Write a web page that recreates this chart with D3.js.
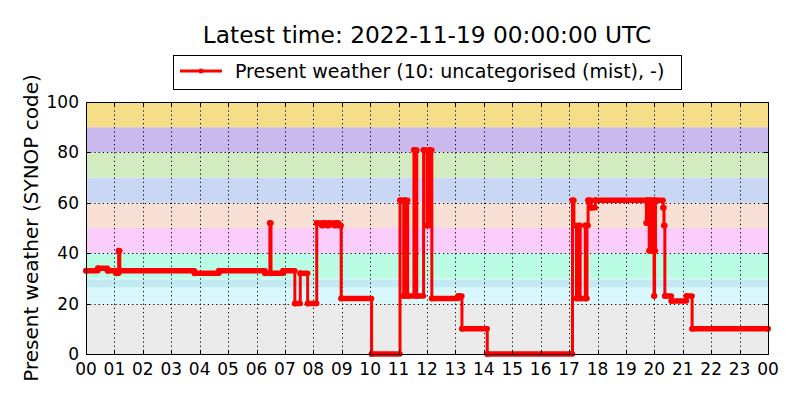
<!DOCTYPE html>
<html>
<head>
<meta charset="utf-8">
<script src="https://cdn.jsdelivr.net/npm/d3@7"></script>
<style>
  body { margin: 0; background: #fff; }
  text { font-family: "DejaVu Sans", sans-serif; fill: #000; }
</style>
</head>
<body>
<div id="chart"></div>
<script>
// change points of the present weather code (hours after 2022-11-18 00 UTC)
var hours = [0.00, 0.42, 0.76, 1.06, 1.15, 1.19, 3.82, 4.68, 6.30, 6.47, 6.51, 6.94, 7.35, 7.54, 7.80,
             8.12, 8.30, 8.36, 8.50, 8.56, 8.75, 8.82, 8.90, 8.98, 10.05, 11.05, 11.18, 11.22, 11.32,
             11.54, 11.64, 11.88, 12.00, 12.10, 12.17, 13.10, 13.23, 14.12, 17.12, 17.17, 17.26, 17.35,
             17.39, 17.57, 17.60, 17.63, 17.67, 17.78, 17.92, 19.72, 19.75, 19.82, 19.85, 19.88, 19.91,
             19.94, 19.97, 19.99, 20.01, 20.04, 20.31, 20.34, 20.37, 20.60, 21.13, 21.33, 24.00];
var codes = [33, 34, 33, 32, 41, 33, 32, 33, 32, 52, 32, 33, 20, 32, 20,
             52, 51, 52, 51, 52, 51, 52, 51, 22, 0, 61, 23, 61, 23,
             81, 23, 81, 51, 81, 22, 23, 10, 0, 61, 51, 22, 51,
             22, 51, 22, 51, 61, 58, 61, 52, 61, 41, 61, 41, 51,
             41, 61, 23, 41, 61, 58, 51, 23, 21, 23, 10, 10];

// background bands by code group
var bandLow  = [0, 20, 26.5, 30, 40, 50, 60, 70, 80, 90];
var bandHigh = [20, 30, 29.5, 40, 50, 60, 70, 80, 90, 100];
var bandColor = ["#ebebeb", "#d8f8fd", "#c3eaf2", "#bbfde4", "#fbcdfb", "#f8e0d6",
                 "#c9d7f5", "#d3ebc0", "#c9b8ec", "#f6de89"];

var xTickValues = d3.range(0, 25);
var xTickLabels = ["00","01","02","03","04","05","06","07","08","09","10","11",
                   "12","13","14","15","16","17","18","19","20","21","22","23","00"];
var yTickValues = [0, 20, 40, 60, 80, 100];

var titleText = "Latest time: 2022-11-19 00:00:00 UTC";
var legendText = "Present weather (10: uncategorised (mist), -)";
var yLabel = "Present weather (SYNOP code)";

var W = 800, H = 400;
var margin = {top: 102, right: 32, bottom: 46, left: 86};
var width = W - margin.left - margin.right;
var height = H - margin.top - margin.bottom;

var svg = d3.select("#chart").append("svg").attr("width", W).attr("height", H);
svg.append("rect").attr("width", W).attr("height", H).attr("fill", "#fff");
var g = svg.append("g").attr("transform", `translate(${margin.left},${margin.top})`);

var x = d3.scaleLinear().domain([0, 24]).range([0, width]);
var y = d3.scaleLinear().domain([0, 100]).range([height, 0]);

// bands
g.selectAll(".band").data(bandLow).enter().append("rect")
  .attr("x", 0).attr("width", width)
  .attr("y", (d, i) => y(bandHigh[i]))
  .attr("height", (d, i) => y(d) - y(bandHigh[i]))
  .attr("fill", (d, i) => bandColor[i]);

// dotted grid
var grid = g.append("g").attr("stroke", "#000").attr("stroke-width", 1).attr("stroke-dasharray", "1.2,3");
grid.selectAll(".vg").data(xTickValues.slice(1, -1)).enter().append("line")
  .attr("x1", d => Math.round(x(d)) + 0.5).attr("x2", d => Math.round(x(d)) + 0.5)
  .attr("y1", 0).attr("y2", height);
grid.selectAll(".hg").data(yTickValues.slice(1, -1)).enter().append("line")
  .attr("y1", d => Math.round(y(d)) + 0.5).attr("y2", d => Math.round(y(d)) + 0.5)
  .attr("x1", 0).attr("x2", width);

// series
var pts = hours.map((h, i) => ({h: h, v: codes[i]}));
var line = d3.line().x(d => x(d.h)).y(d => y(d.v)).curve(d3.curveStepAfter);
var series = g.append("g");
series.append("path").datum(pts).attr("d", line)
  .attr("fill", "none").attr("stroke", "#ff0000").attr("stroke-width", 3);
// dense samples along each plateau look like a thicker trail of markers
series.selectAll(".plateau").data(pts.slice(0, -1)).enter().append("line")
  .attr("x1", d => x(d.h)).attr("y1", d => y(d.v))
  .attr("x2", (d, i) => x(pts[i + 1].h)).attr("y2", d => y(d.v))
  .attr("stroke", "#ff0000").attr("stroke-width", 5.5).attr("stroke-linecap", "round");
series.selectAll("circle").data(pts).enter().append("circle")
  .attr("cx", d => x(d.h)).attr("cy", d => y(d.v)).attr("r", 3).attr("fill", "#ff0000");

// frame and inward ticks on all sides
var axes = g.append("g").attr("stroke", "#000").attr("stroke-width", 1);
xTickValues.forEach(function(d) {
  var px = Math.round(x(d)) + 0.5;
  axes.append("line").attr("x1", px).attr("x2", px).attr("y1", height).attr("y2", height - 4);
  axes.append("line").attr("x1", px).attr("x2", px).attr("y1", 0).attr("y2", 4);
});
yTickValues.forEach(function(d) {
  var py = Math.round(y(d)) + 0.5;
  axes.append("line").attr("x1", 0).attr("x2", 4).attr("y1", py).attr("y2", py);
  axes.append("line").attr("x1", width).attr("x2", width - 4).attr("y1", py).attr("y2", py);
});
g.append("rect").attr("x", 0.5).attr("y", 0.5).attr("width", width).attr("height", height)
  .attr("fill", "none").attr("stroke", "#000").attr("stroke-width", 1);

// tick labels
g.selectAll(".xl").data(xTickValues).enter().append("text")
  .attr("x", d => x(d)).attr("y", height + 21).attr("text-anchor", "middle")
  .attr("font-size", "17px").text((d, i) => xTickLabels[i]);
g.selectAll(".yl").data(yTickValues).enter().append("text")
  .attr("x", -7).attr("y", d => y(d) + 6).attr("text-anchor", "end")
  .attr("font-size", "17px").text(d => d);

// y axis label
svg.append("text").attr("transform", `translate(38,${margin.top + height / 2}) rotate(-90)`)
  .attr("text-anchor", "middle").attr("font-size", "20px").text(yLabel);

// title
svg.append("text").attr("x", margin.left + width / 2).attr("y", 43)
  .attr("text-anchor", "middle").attr("font-size", "23.3px").text(titleText);

// legend
var legend = svg.append("g");
legend.append("rect").attr("x", 173.5).attr("y", 55.5).attr("width", 508).attr("height", 34)
  .attr("fill", "#fff").attr("stroke", "#000").attr("stroke-width", 1);
legend.append("line").attr("x1", 180).attr("x2", 222).attr("y1", 71).attr("y2", 71)
  .attr("stroke", "#ff0000").attr("stroke-width", 3);
legend.append("circle").attr("cx", 201).attr("cy", 71).attr("r", 2.5).attr("fill", "#ff0000");
legend.append("text").attr("x", 235).attr("y", 78).attr("font-size", "19px").text(legendText);
</script>
</body>
</html>
